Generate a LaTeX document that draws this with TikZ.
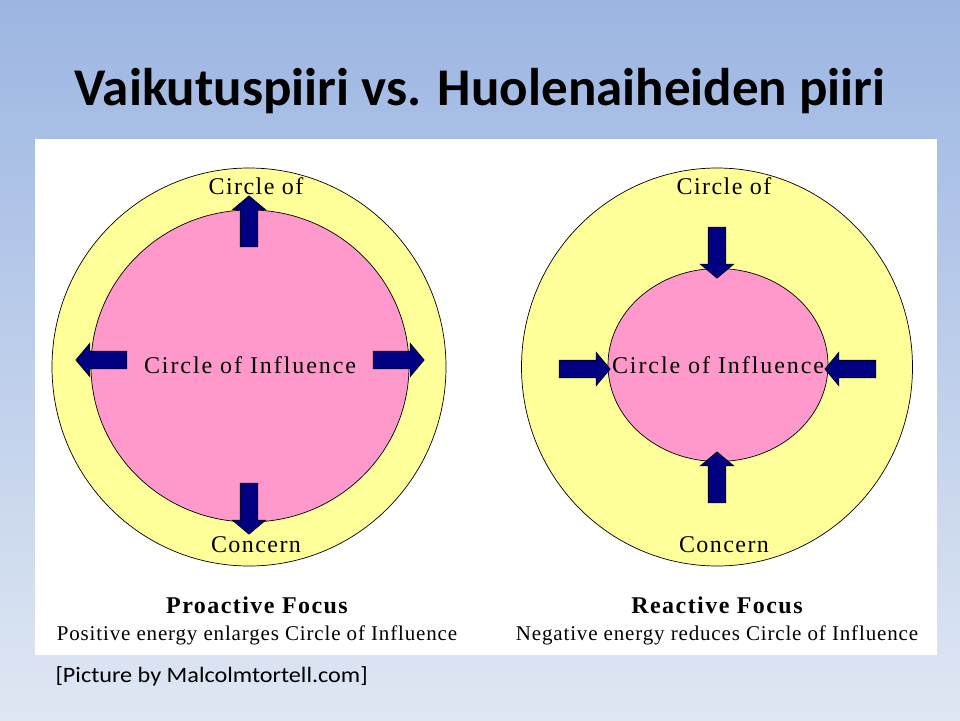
\documentclass[tikz,border=0pt]{standalone}
\usepackage{fontspec}
\setmainfont{Liberation Serif}
\newfontfamily\picfont{Liberation Serif}[LetterSpace=6]
\newfontfamily\slidefont{Carlito}
\newfontfamily\creditfont{Carlito}[FakeStretch=1.1]
\usepackage{tikz}
\usetikzlibrary{positioning,shapes.geometric,shapes.arrows}
\definecolor{concern}{RGB}{255,255,153}
\definecolor{influence}{RGB}{255,153,204}
\definecolor{arrownavy}{RGB}{0,0,128}
\definecolor{skytop}{RGB}{156,182,226}
\definecolor{skybottom}{RGB}{223,231,243}

\begin{document}
\begin{tikzpicture}[x=1pt, y=-1pt,
	outer/.style={ellipse, draw=black, line width=0.7pt, fill=concern, inner sep=0pt},
	inner/.style={ellipse, draw=black, line width=0.7pt, fill=influence, inner sep=0pt},
	push/.style={single arrow, draw=black, line width=0.6pt, fill=arrownavy, inner xsep=0pt, inner ysep=8.5pt,
		minimum height=51pt, single arrow head extend=8pt, single arrow tip angle=100, rotate=#1},
	lbl/.style={font=\picfont\fontsize{24}{28}\selectfont},
	mid/.style={font=\picfont\fontsize{24}{28}\selectfont\addfontfeature{LetterSpace=8}},
	focus/.style={font=\picfont\bfseries\fontsize{24}{28}\selectfont},
	note/.style={font=\picfont\fontsize{21}{24}\selectfont\addfontfeature{LetterSpace=4}}]
		\useasboundingbox (0,0) rectangle (960,720);
		\shade[top color=skytop, bottom color=skybottom] (0,0) rectangle (960,720);
		\fill[white] (35,139) rectangle (937,655);
		\node[font=\slidefont\bfseries\fontsize{53}{60}\selectfont] (title) at (480,91) {Vaikutuspiiri vs. Huolenaiheiden piiri};
		
		\node[outer, minimum width=394pt, minimum height=398pt] (outerL) at (249,367) {};
		\node[inner, minimum width=318pt, minimum height=312pt] (innerL) at (250,366) {};
		\node[lbl] (ofL) at (256,186) {Circle of};
		\node[lbl] (concernL) at (256,545) {Concern};
		\node[mid] (inflL) at (250,365) {Circle of Influence};
		\node[push=90] (upL) at (249,225) {};
		\node[push=-90] (downL) at (249,505) {};
		\node[push=180] (leftL) at (105,360) {};
		\node[push=0] (rightL) at (395,360) {};
		
		\node[outer, minimum width=391pt, minimum height=398pt] (outerR) at (717,367) {};
		\node[inner, minimum width=220pt, minimum height=193pt] (innerR) at (718,365) {};
		\node[lbl] (ofR) at (724,186) {Circle of};
		\node[lbl] (concernR) at (724,545) {Concern};
		\node[mid] (inflR) at (718,365) {Circle of Influence};
		\node[push=-90] (downR) at (717,249) {};
		\node[push=90] (upR) at (717,481) {};
		\node[push=0] (rightR) at (581,369) {};
		\node[push=180] (leftR) at (854,369) {};
		
		\node[focus] (proactive) at (257,605) {Proactive Focus};
		\node[note] (enlarge) at (257,635) {Positive energy enlarges Circle of Influence};
		\node[focus] (reactive) at (717,605) {Reactive Focus};
		\node[note] (reduce) at (717,635) {Negative energy reduces Circle of Influence};
		
		\node[font=\creditfont\fontsize{22}{26}\selectfont, anchor=west] (credit) at (52,676) {[Picture by Malcolmtortell.com]};
	\end{tikzpicture}
\end{document}
